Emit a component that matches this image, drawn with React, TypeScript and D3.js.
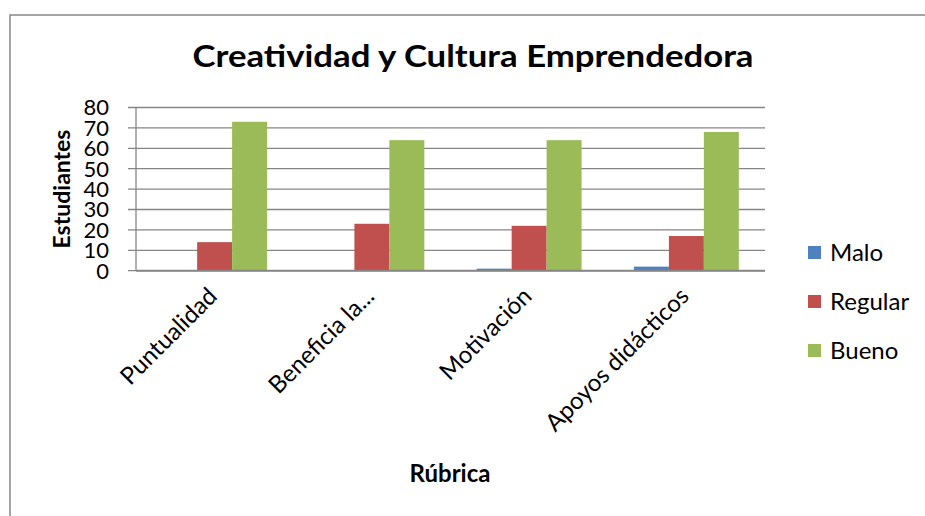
import React from "react";
import * as d3 from "d3";

const categories = ["Puntualidad", "Beneficia la...", "Motivación", "Apoyos didácticos"];
const seriesNames = ["Malo", "Regular", "Bueno"];
const malo = [0, 0, 1, 2];
const regular = [14, 23, 22, 17];
const bueno = [73, 64, 64, 68];
const yTicks = [0, 10, 20, 30, 40, 50, 60, 70, 80];
const colors = ["#4F81BD", "#C0504D", "#9BBB59"];

const W = 925, H = 516;
const plot = { left: 136, right: 765, top: 107.5, bottom: 270.7 };
const FONT = "Lato, 'Open Sans', sans-serif";

export default function App() {
  const series = [malo, regular, bueno];
  const x0 = d3.scaleBand().domain(categories).range([plot.left, plot.right]).paddingInner(0.333).paddingOuter(0.1665);
  const x1 = d3.scaleBand().domain(seriesNames).range([0, x0.bandwidth()]);
  const y = d3.scaleLinear().domain([0, 80]).range([plot.bottom, plot.top]);
  const gray = "#868686";
  return (
    <svg width={W} height={H} style={{ position: "absolute", left: 0, top: 0, background: "#fff" }} fontFamily={FONT}>
      <rect x={10} y={15} width={W} height={H} fill="#fff" stroke={gray} strokeWidth={1.5} />
      <text x={473} y={67} textAnchor="middle" fontSize={31} fontWeight="bold" fill="#000" textLength={561} lengthAdjust="spacingAndGlyphs">
        Creatividad y Cultura Emprendedora
      </text>
      {yTicks.map((t) => (
        <g key={t}>
          <line x1={plot.left - 8} x2={plot.right} y1={y(t)} y2={y(t)} stroke={gray} strokeWidth={1.3} />
          <text x={109} y={y(t)} dy="0.36em" textAnchor="end" fontSize={22} fill="#000">{t}</text>
        </g>
      ))}
      <line x1={plot.left} x2={plot.left} y1={plot.top} y2={plot.bottom} stroke={gray} strokeWidth={1.3} />
      {categories.map((c, i) => (
        <g key={c}>
          {series.map((s, j) => (
            <rect key={j} x={(x0(c) as number) + (x1(seriesNames[j]) as number)} width={x1.bandwidth()} y={y(s[i])} height={y(0) - y(s[i])} fill={colors[j]} />
          ))}
        </g>
      ))}
      <line x1={plot.left} x2={plot.right} y1={y(0)} y2={y(0)} stroke={gray} strokeWidth={2} />
      {categories.map((c) => {
        const cx = (x0(c) as number) + x0.bandwidth() / 2;
        return (
          <text key={c} transform={`translate(${cx + 4},${plot.bottom + 27}) rotate(-45)`} textAnchor="end" fontSize={24} fill="#000">{c}</text>
        );
      })}
      <text transform={`translate(70,189) rotate(-90)`} textAnchor="middle" fontSize={23} fontWeight="bold" fill="#000">Estudiantes</text>
      <text x={450} y={482} textAnchor="middle" fontSize={24} fontWeight="bold" fill="#000">Rúbrica</text>
      {seriesNames.map((n, j) => (
        <g key={n} transform={`translate(808,${252 + j * 49})`}>
          <rect x={0} y={-6} width={13} height={13} fill={colors[j]} />
          <text x={22} y={0} dy="0.36em" fontSize={24} fill="#000">{n}</text>
        </g>
      ))}
    </svg>
  );
}
